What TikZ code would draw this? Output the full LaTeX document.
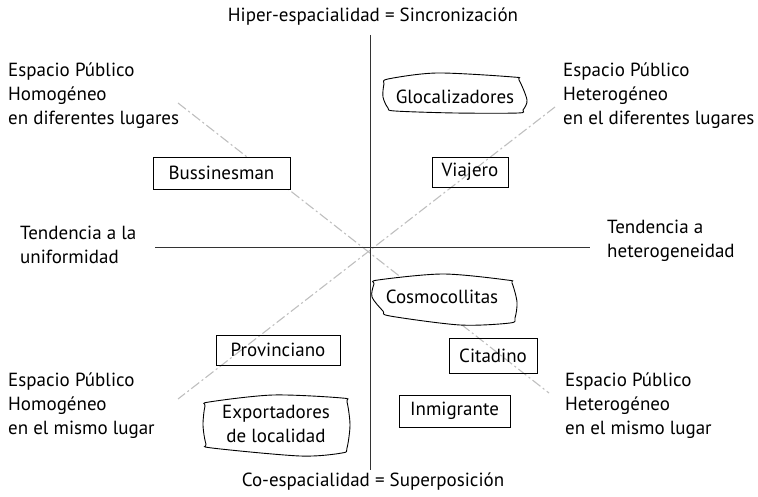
\documentclass[tikz,border=0pt]{standalone}
\usepackage{fontspec}
\setmainfont{PT Sans}
\begin{document}
\begin{tikzpicture}[x=1pt,y=-1pt,
  txt/.style={font=\fontsize{19}{24}\selectfont, inner sep=0pt, align=left},
  boxn/.style={draw, line width=0.9pt, font=\fontsize{19}{24}\selectfont, inner sep=0pt},
  blobtxt/.style={font=\fontsize{19}{24}\selectfont, inner sep=0pt, align=left},
  blob/.style={line width=0.9pt},
  axis/.style={line width=1pt, draw=black!80},
  diag/.style={line width=1.1pt, draw=black!25, dash pattern=on 10pt off 3pt on 2pt off 3pt}]
\useasboundingbox (0,0) rectangle (758,497);
% axes
\coordinate (vt) at (370,35);
\coordinate (vb) at (370,470);
\coordinate (hl) at (155,248);
\coordinate (hr) at (590,248);
\coordinate (d1a) at (178,103);
\coordinate (d1b) at (549,393);
\coordinate (d2a) at (555,107);
\coordinate (d2b) at (178,399);
\draw[diag] (d1a) -- (d1b);
\draw[diag] (d2a) -- (d2b);
\draw[axis] (vt) -- (vb);
\draw[axis] (hl) -- (hr);
% labels
\node[txt, anchor=center] (top) at (373,17) {Hiper-espacialidad = Sincronización};
\node[txt, anchor=center] (bot) at (373,482) {Co-espacialidad = Superposición};
\node[txt, anchor=north west] (tl) at (8,63) {Espacio Público\\Homogéneo\\en diferentes lugares};
\node[txt, anchor=north west] (tr) at (563,63) {Espacio Público\\Heterogéneo\\en el diferentes lugares};
\node[txt, anchor=north west] (ml) at (20,226) {Tendencia a la\\uniformidad};
\node[txt, anchor=north west] (mr) at (607,220) {Tendencia a\\heterogeneidad};
\node[txt, anchor=north west] (bl) at (8,373) {Espacio Público\\Homogéneo\\en el mismo lugar};
\node[txt, anchor=north west] (br) at (565,373) {Espacio Público\\Heterogéneo\\en el mismo lugar};
% boxes
\node[boxn, minimum width=137pt, minimum height=32pt, fill=white] (buss) at (221.5,173) {Bussinesman};
\node[boxn, minimum width=76pt, minimum height=30pt] (viaj) at (470,172) {Viajero};
\node[boxn, minimum width=124pt, minimum height=30pt] (prov) at (278,350) {Provinciano};
\node[boxn, minimum width=88pt, minimum height=35pt] (cita) at (493,355.5) {Citadino};
\node[boxn, minimum width=111pt, minimum height=32pt, fill=white] (inmi) at (454.5,411) {Inmigrante};
% blobs
\draw[blob] plot[smooth cycle, tension=0.5] coordinates {(384,84) (388,79) (437,73) (513,77) (519,80) (527,100) (523,110) (518,113) (455,113) (395,111) (388,108) (383,97)};
\node[blobtxt] (gloc) at (455,97) {Glocalizadores};
\draw[blob, fill=white] plot[smooth cycle, tension=0.5] coordinates {(374,284) (378,280) (443,274) (507,280) (512,283) (517,302) (515,318) (510,323) (460,325) (390,316) (383,311) (372,297)};
\node[blobtxt] (cosm) at (442,297) {Cosmocollitas};
\draw[blob] plot[smooth cycle, tension=0.5] coordinates {(205,406) (209,402) (273,395) (342,398) (347,402) (350,425) (347,448) (342,453) (300,456) (212,448) (206,444) (203,425)};
\node[blobtxt, align=center] (expo) at (276,424) {Exportadores\\de localidad};
\end{tikzpicture}
\end{document}
